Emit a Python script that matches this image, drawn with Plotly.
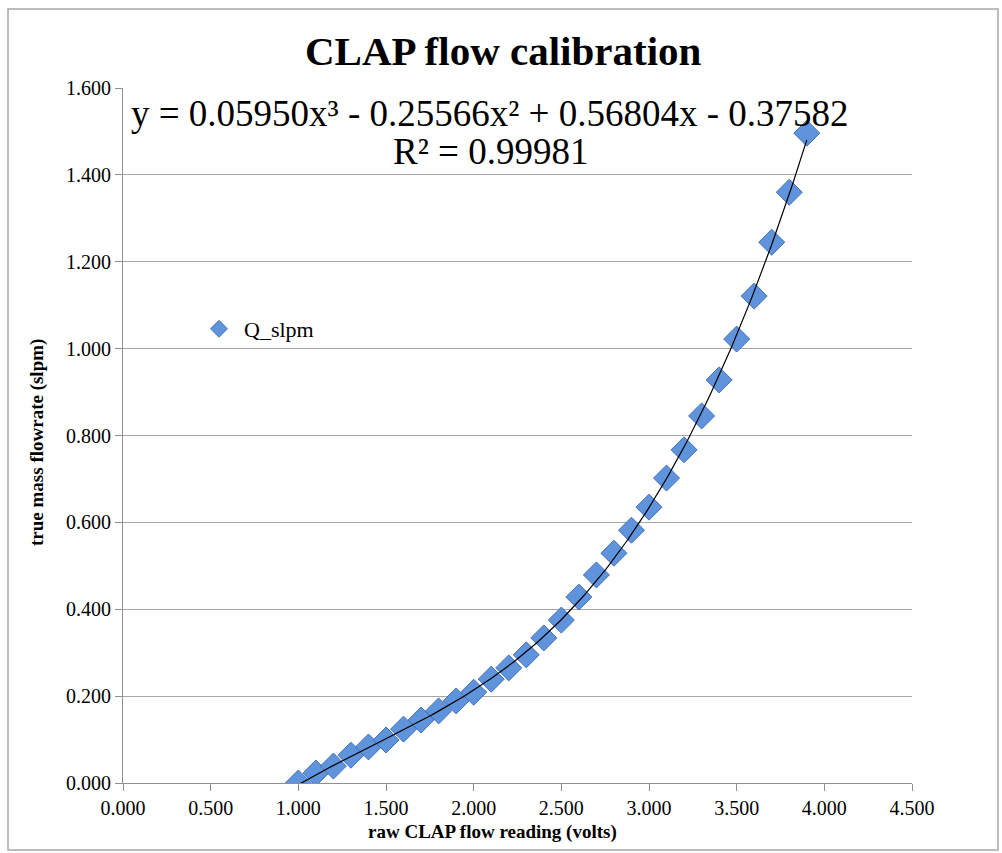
import numpy as np
import plotly.graph_objects as go

# Data
volts = [1.0, 1.1, 1.2, 1.3, 1.4, 1.5, 1.6, 1.7, 1.8, 1.9,
         2.0, 2.1, 2.2, 2.3, 2.4, 2.5, 2.6, 2.7, 2.8, 2.9,
         3.0, 3.1, 3.2, 3.3, 3.4, 3.5, 3.6, 3.7, 3.8, 3.9]
q_slpm = [0.000, 0.023, 0.039, 0.064, 0.083, 0.099, 0.124, 0.145, 0.166, 0.189,
          0.209, 0.239, 0.265, 0.295, 0.334, 0.375, 0.428, 0.479, 0.529, 0.582,
          0.635, 0.702, 0.767, 0.845, 0.928, 1.022, 1.121, 1.245, 1.360, 1.496]

# Trendline coefficients (from the equation shown on the chart)
coef = [0.05950, -0.25566, 0.56804, -0.37582]
x_ticks = [0.0, 0.5, 1.0, 1.5, 2.0, 2.5, 3.0, 3.5, 4.0, 4.5]
y_ticks = [0.0, 0.2, 0.4, 0.6, 0.8, 1.0, 1.2, 1.4, 1.6]

fit_x = np.linspace(min(volts), max(volts), 200)
fit_y = np.polyval(coef, fit_x)

SERIF = "Liberation Serif, Times New Roman, serif"
MARKER_FILL = "#5f93dc"
MARKER_EDGE = "#4472b4"

fig = go.Figure()
fig.add_trace(go.Scatter(
    x=volts, y=q_slpm, mode="markers", name="Q_slpm", showlegend=False,
    marker=dict(symbol="diamond", size=20, color=MARKER_FILL,
                line=dict(color=MARKER_EDGE, width=1)),
))
fig.add_trace(go.Scatter(
    x=fit_x, y=fit_y, mode="lines", showlegend=False,
    line=dict(color="black", width=1.2), hoverinfo="skip",
))
# legend entry (smaller marker as in the original legend)
fig.add_trace(go.Scatter(
    x=[None], y=[None], mode="markers", name="Q_slpm", showlegend=True,
    marker=dict(symbol="diamond", size=13, color=MARKER_FILL,
                line=dict(color=MARKER_EDGE, width=1)),
))

L, R, T, B = 123, 90, 88, 70
W, H = 1002, 853
pw, ph = W - L - R, H - T - B

def px(x):
    return (x - L) / pw

def py(y):
    return (H - B - y) / ph

axis_common = dict(showline=True, linecolor="#909090", linewidth=1,
                   ticks="outside", ticklen=7, tickcolor="#909090",
                   zeroline=False, tickformat=".3f",
                   tickfont=dict(size=20, family=SERIF))

fig.update_layout(
    width=W, height=H,
    margin=dict(l=L, r=R, t=T, b=B),
    paper_bgcolor="white", plot_bgcolor="white",
    font=dict(family=SERIF, color="black", size=15),
    showlegend=True,
    legend=dict(x=px(194), y=py(329), xanchor="left", yanchor="middle",
                font=dict(family=SERIF, size=22), bgcolor="rgba(0,0,0,0)",
                itemwidth=40),
    xaxis=dict(range=[0, 4.5], tickvals=x_ticks, showgrid=False, **axis_common),
    yaxis=dict(range=[0, 1.6], tickvals=y_ticks, showgrid=True,
               gridcolor="#a6a6a6", gridwidth=1, **axis_common),
    annotations=[
        dict(text="<b>CLAP flow calibration</b>", xref="paper", yref="paper",
             x=px(503), y=py(51), xanchor="center", yanchor="middle",
             showarrow=False, font=dict(family=SERIF, size=41)),
        dict(text="y = 0.05950x³ - 0.25566x² + 0.56804x - 0.37582",
             xref="paper", yref="paper", x=px(490), y=py(113),
             xanchor="center", yanchor="middle", showarrow=False,
             font=dict(family=SERIF, size=37)),
        dict(text="R² = 0.99981", xref="paper", yref="paper",
             x=px(490), y=py(152), xanchor="center", yanchor="middle",
             showarrow=False, font=dict(family=SERIF, size=37)),
        dict(text="<b>raw CLAP flow reading (volts)</b>", xref="paper",
             yref="paper", x=px(492), y=py(832), xanchor="center",
             yanchor="middle", showarrow=False,
             font=dict(family=SERIF, size=19)),
        dict(text="<b>true mass flowrate (slpm)</b>", xref="paper",
             yref="paper", x=px(37), y=py(443), xanchor="center",
             yanchor="middle", showarrow=False, textangle=-90,
             font=dict(family=SERIF, size=19)),
    ],
    shapes=[
        dict(type="rect", xref="paper", yref="paper",
             x0=px(8), x1=px(998), y0=py(850), y1=py(9),
             line=dict(color="#a6a6a6", width=1.5), layer="below"),
    ],
)

fig.write_html("out.html", config={"displayModeBar": False},
               post_script="document.body.style.margin='0';document.body.style.padding='0';")
